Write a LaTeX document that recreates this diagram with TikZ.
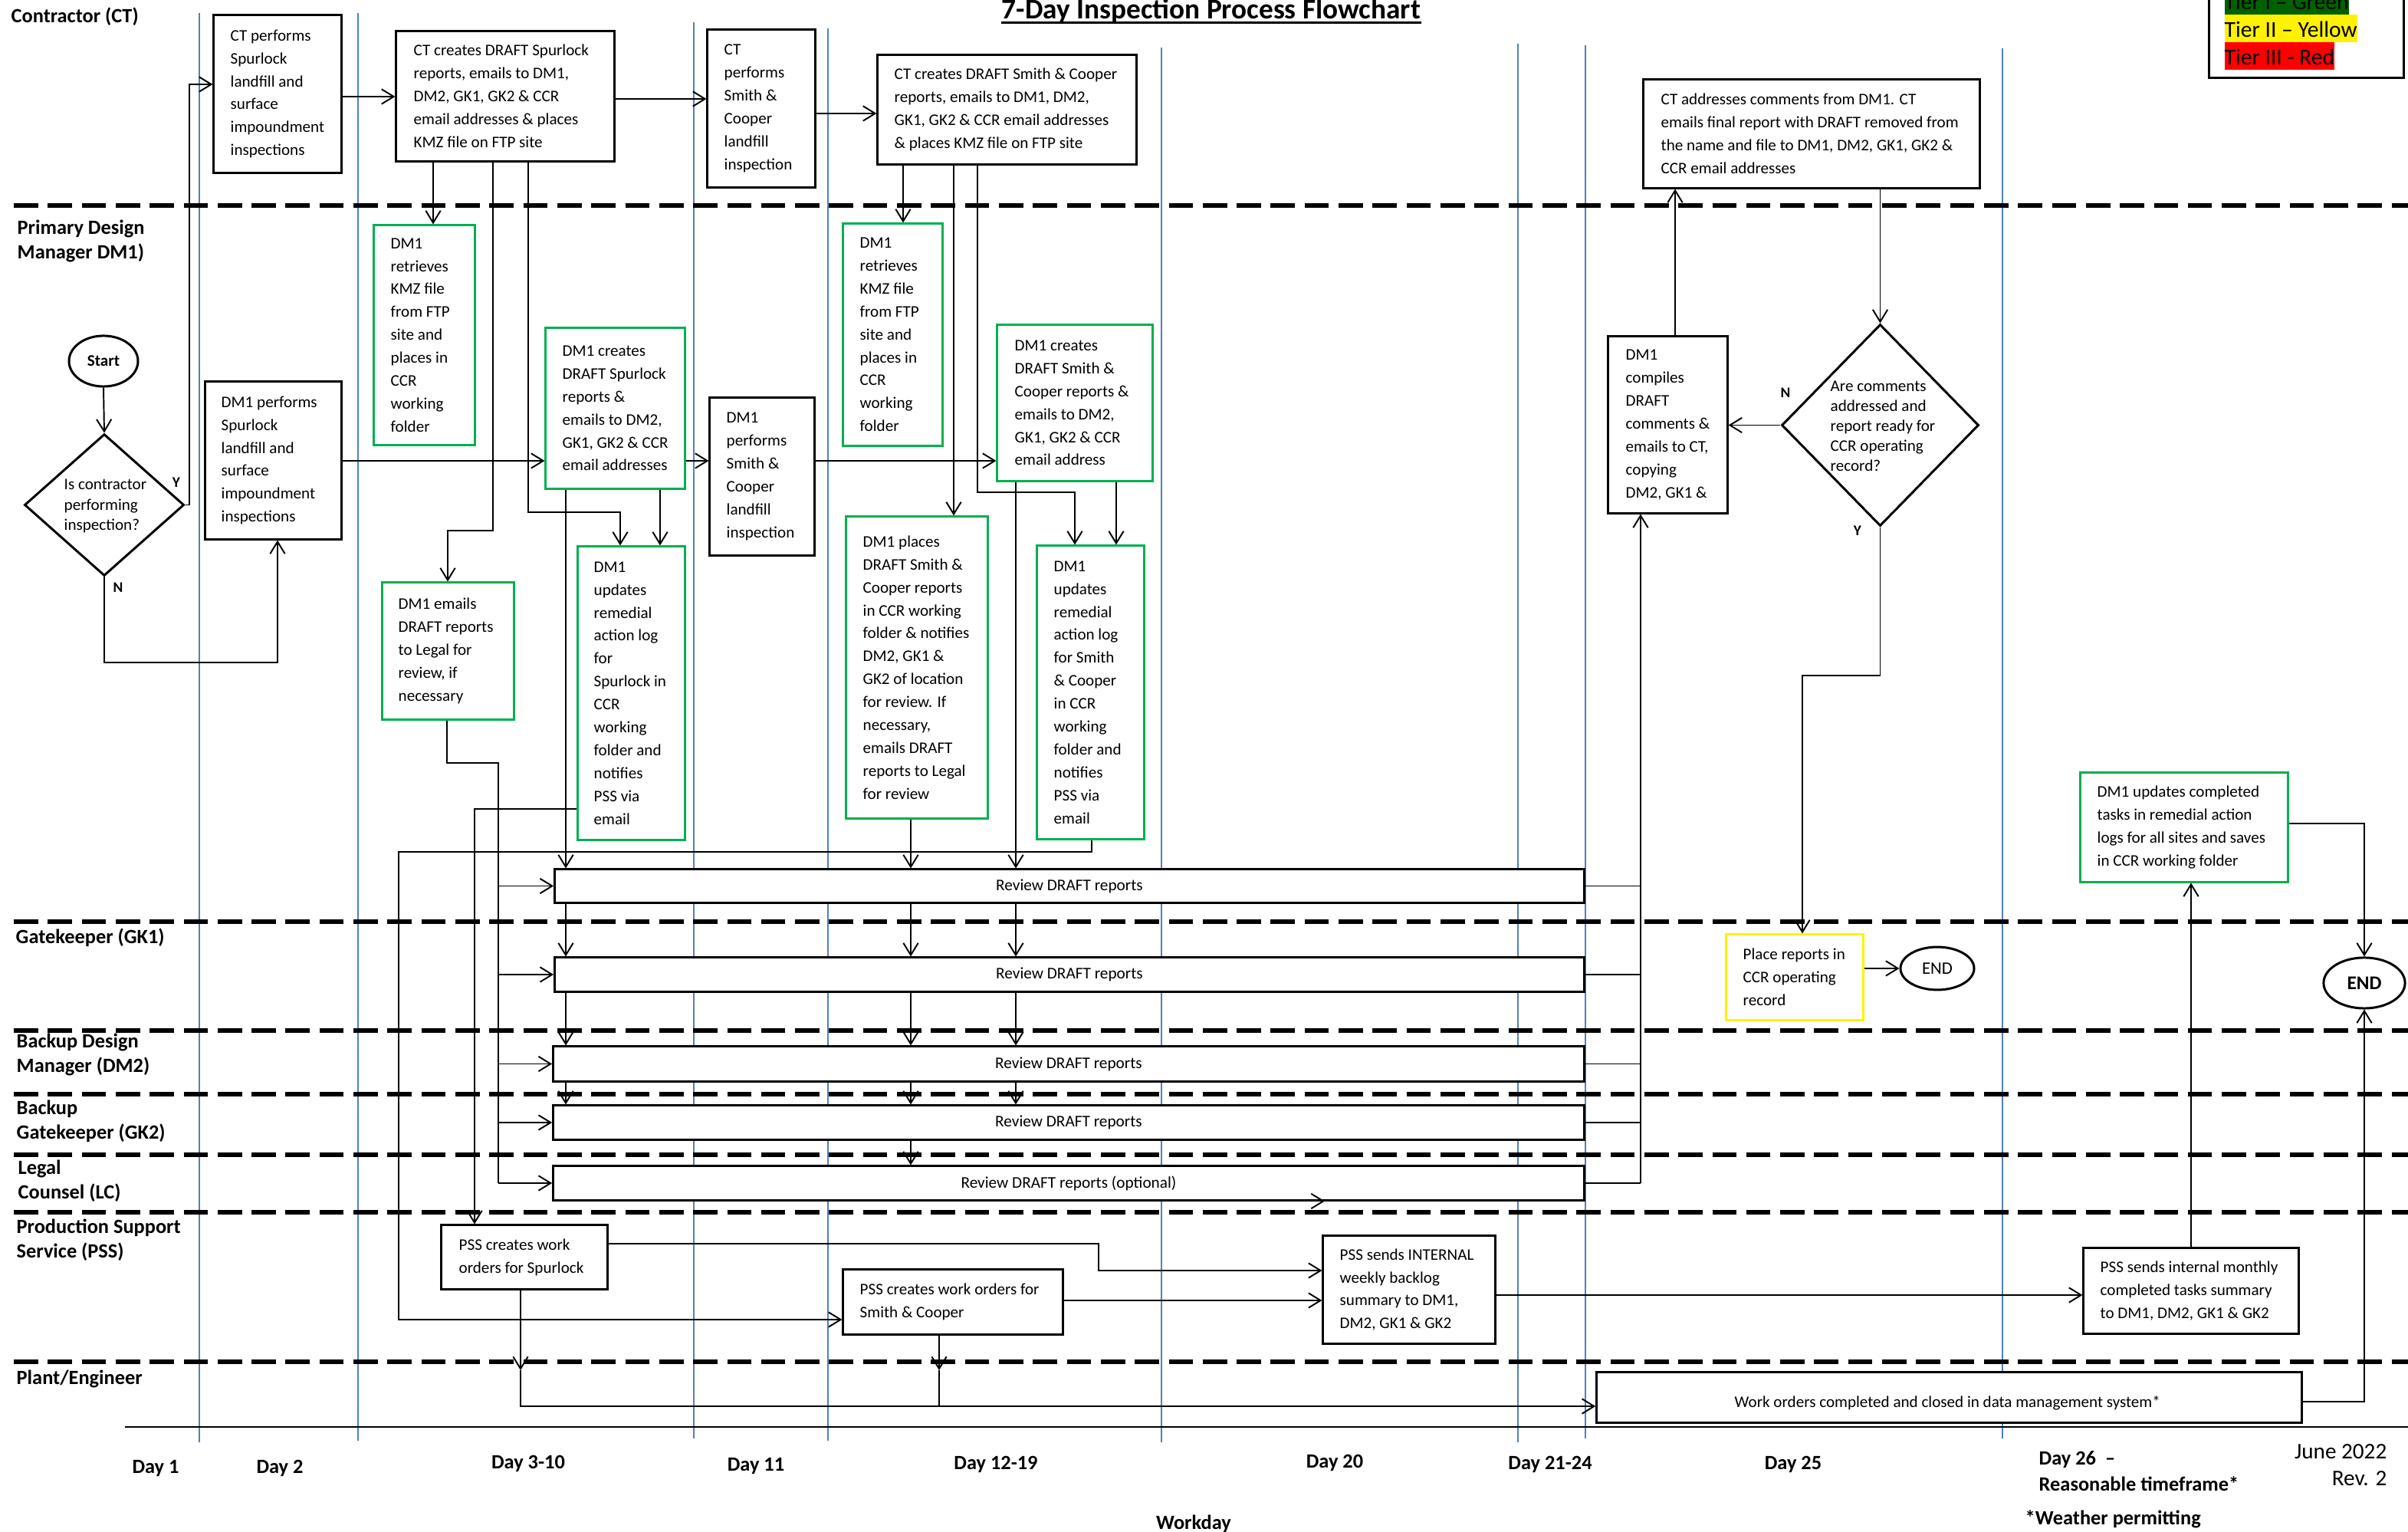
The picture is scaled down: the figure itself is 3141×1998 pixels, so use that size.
\documentclass[tikz,border=0pt]{standalone}
\usepackage{fontspec}
\setmainfont{Carlito}
\usetikzlibrary{arrows.meta,shapes.geometric}
\definecolor{boxgreen}{RGB}{0,176,80}
\definecolor{dayblue}{RGB}{79,129,189}
\definecolor{tiergreen}{RGB}{0,97,0}
\pgfdeclarelayer{bg}\pgfsetlayers{bg,main}
% name, style, x1, y1, x2, y2, text-left-x, text
\newcommand\mkbox[8]{%
  \pgfmathsetmacro\bw{((#5)-(#3))*0.28453}%
  \pgfmathsetmacro\bh{((#6)-(#4))*0.28453}%
  \pgfmathsetmacro\bcx{((#3)+(#5))/2}%
  \pgfmathsetmacro\bcy{((#4)+(#6))/2}%
  \node[#2, minimum width=\bw pt, minimum height=\bh pt] (#1) at (\bcx,\bcy) {};%
  \node[txt, anchor=west] at (#7,\bcy) {#8};%
}
% name, x1, y1, x2, y2, text (centred)
\newcommand\mkrev[6]{%
  \pgfmathsetmacro\bw{((#4)-(#2))*0.28453}%
  \pgfmathsetmacro\bh{((#5)-(#3))*0.28453}%
  \pgfmathsetmacro\bcx{((#2)+(#4))/2}%
  \pgfmathsetmacro\bcy{((#3)+(#5))/2}%
  \node[revbox, minimum width=\bw pt, minimum height=\bh pt] (#1) at (\bcx,\bcy) {#6};%
}
\begin{document}
\begin{tikzpicture}[x=0.01cm,y=-0.01cm,
  blk/.style={draw=black, line width=0.85pt, fill=white, inner sep=0pt},
  grn/.style={draw=boxgreen, line width=0.85pt, fill=white, inner sep=0pt},
  ylw/.style={draw=yellow, line width=0.85pt, fill=white, inner sep=0pt},
  revbox/.style={blk, font=\fontsize{6.05}{7}\selectfont},
  txt/.style={inner sep=0pt, align=left, font=\fontsize{6}{8.5}\selectfont},
  dtxt/.style={inner sep=0pt, align=left, font=\fontsize{6}{7.5}\selectfont},
  lane/.style={inner sep=0pt, align=left, anchor=north west, font=\bfseries\fontsize{7.5}{9.1}\selectfont},
  day/.style={anchor=base, inner sep=0pt, font=\bfseries\fontsize{7.5}{9}\selectfont},
  yn/.style={inner sep=0pt, font=\bfseries\fontsize{5.5}{6}\selectfont},
  lanesep/.style={line width=1.45pt, dash pattern=on 9pt off 3.6pt},
  dayline/.style={draw=dayblue, line width=0.45pt},
  conn/.style={line width=0.55pt},
  arr/.style={conn, -{Straight Barb[length=4.5pt,width=5.5pt]}},
  tier/.style={anchor=base west, inner xsep=0pt, inner ysep=0pt, text height=8.4pt, text depth=1.85pt, font=\fontsize{8.4}{10}\selectfont},
  term/.style={draw, line width=0.85pt, ellipse, fill=white, inner sep=0pt},
  dec/.style={draw, line width=0.85pt, diamond, fill=white, inner sep=0pt}
]
\useasboundingbox (0,0) rectangle (3141,1998);

\begin{pgfonlayer}{bg}
\foreach \x/\a/\b in {260/17/1881, 467/17/1879, 905/29/1876, 1080/37/1879, 1515/62/1881, 1980/57/1881, 2068/59/1876, 2612/63/1876}
  \draw[dayline] (\x,\a) -- (\x,\b);
\foreach \y in {268,1202,1344,1427,1506,1581,1776}
  \draw[lanesep] (18,\y) -- (3141,\y);
\draw[line width=0.5pt] (163,1861) -- (3141,1861);
\end{pgfonlayer}

% title
\node[anchor=base, inner sep=0pt, font=\bfseries\fontsize{10.6}{12}\selectfont] (title) at (1580,25) {7-Day Inspection Process Flowchart};
\draw[line width=0.9pt] ([yshift=-1.4pt]title.base west) -- ([yshift=-1.4pt]title.base east);

% legend
\draw[line width=0.85pt, fill=white] (2881,-20) rectangle (3135,102);
\node[tier, fill=tiergreen] (t1) at (2901,13) {Tier I – Green};
\node[tier, fill=yellow] (t2) at (2901,49) {Tier II – Yellow};
\node[tier, fill=red] (t3) at (2901,84.5) {Tier III - Red};

% lane labels
\node[lane] (l1) at (14,9) {Contractor (CT)};
\node[lane] (l2) at (22,286) {Primary Design\\Manager DM1)};
\node[lane] (l3) at (20,1210) {Gatekeeper (GK1)};
\node[lane] (l4) at (21,1347) {Backup Design\\Manager (DM2)};
\node[lane] (l5) at (21,1434) {Backup\\Gatekeeper (GK2)};
\node[lane] (l6) at (23,1512) {Legal\\Counsel (LC)};
\node[lane] (l7) at (21,1589) {Production Support\\Service (PSS)};
\node[lane] (l8) at (21,1786) {Plant/Engineer};

% day labels
\node[day] (d1) at (203,1921) {Day 1};
\node[day] (d2) at (365,1921) {Day 2};
\node[day] (d3) at (689,1915) {Day 3-10};
\node[day] (d4) at (986,1918) {Day 11};
\node[day] (d5) at (1299,1916) {Day 12-19};
\node[day] (d6) at (1741,1914) {Day 20};
\node[day] (d7) at (2022,1916) {Day 21-24};
\node[day] (d8) at (2339,1916) {Day 25};
\node[lane, font=\bfseries\fontsize{7.5}{9.7}\selectfont] (d9) at (2659,1892) {Day 26 \ –\\Reasonable timeframe*};
\node[day, anchor=base west] (wp) at (2641,1988) {*Weather permitting};
\node[day] (wd) at (1557,1994) {Workday};
\node[inner sep=0pt, anchor=north east, align=right, font=\fontsize{8.3}{10}\selectfont] (rev) at (3114,1883) {June 2022\\Rev. 2};

% CT lane
\mkbox{ctSp}{blk}{279}{20}{445}{225}{300}{CT performs\\Spurlock\\landfill and\\surface\\impoundment\\inspections}
\mkbox{ctDraftSp}{blk}{517}{41}{801}{210}{539}{CT creates DRAFT Spurlock\\reports, emails to DM1,\\DM2, GK1, GK2 \& CCR\\email addresses \& places\\KMZ file on FTP site}
\mkbox{ctSC}{blk}{923}{39}{1063}{244}{944}{CT\\performs\\Smith \&\\Cooper\\landfill\\inspection}
\mkbox{ctDraftSC}{blk}{1145}{72}{1482}{214}{1166}{CT creates DRAFT Smith \& Cooper\\reports, emails to DM1, DM2,\\GK1, GK2 \& CCR email addresses\\\& places KMZ file on FTP site}
\mkbox{ctFinal}{blk}{2144}{104}{2582}{245}{2166}{CT addresses comments from DM1. CT\\emails final report with DRAFT removed from\\the name and file to DM1, DM2, GK1, GK2 \&\\CCR email addresses}

% DM1 lane
\node[term, minimum width=25.6pt, minimum height=18.8pt, font=\bfseries\fontsize{6}{7}\selectfont] (start) at (135,471) {Start};
\node[dec, minimum width=59.2pt, minimum height=52.6pt] (dec1) at (136,658.5) {};
\node[dtxt, anchor=west] at (83,660) {Is contractor\\performing\\inspection?};
\node[yn] (ylab1) at (230,629) {Y};
\node[yn] (nlab1) at (154,766) {N};
\mkbox{dmSp}{blk}{268}{498}{445}{703}{288}{DM1 performs\\Spurlock\\landfill and\\surface\\impoundment\\inspections}
\mkbox{ret1}{grn}{488}{294}{619}{580}{509}{DM1\\retrieves\\KMZ file\\from FTP\\site and\\places in\\CCR\\working\\folder}
\mkbox{crSp}{grn}{712}{428}{893}{637}{733}{DM1 creates\\DRAFT Spurlock\\reports \&\\emails to DM2,\\GK1, GK2 \& CCR\\email addresses}
\mkbox{dmSC}{blk}{926}{519}{1062}{724}{947}{DM1\\performs\\Smith \&\\Cooper\\landfill\\inspection}
\mkbox{ret2}{grn}{1100}{292}{1229}{581}{1121}{DM1\\retrieves\\KMZ file\\from FTP\\site and\\places in\\CCR\\working\\folder}
\mkbox{crSC}{grn}{1301}{424}{1503}{627}{1323}{DM1 creates\\DRAFT Smith \&\\Cooper reports \&\\emails to DM2,\\GK1, GK2 \& CCR\\email address}
\mkbox{legal}{grn}{499}{760}{670}{938}{519}{DM1 emails\\DRAFT reports\\to Legal for\\review, if\\necessary}
\mkbox{updSp}{grn}{754}{713}{893}{1095}{774}{DM1\\updates\\remedial\\action log\\for\\Spurlock in\\CCR\\working\\folder and\\notifies\\PSS via\\email}
\mkbox{places}{grn}{1104}{674}{1288}{1067}{1125}{DM1 places\\DRAFT Smith \&\\Cooper reports\\in CCR working\\folder \& notifies\\DM2, GK1 \&\\GK2 of location\\for review. If\\necessary,\\emails DRAFT\\reports to Legal\\for review}
\mkbox{updSC}{grn}{1353}{712}{1492}{1094}{1374}{DM1\\updates\\remedial\\action log\\for Smith\\\& Cooper\\in CCR\\working\\folder and\\notifies\\PSS via\\email}
\mkbox{compile}{blk}{2098}{439}{2253}{669}{2120}{DM1\\compiles\\DRAFT\\comments \&\\emails to CT,\\copying\\DM2, GK1 \&}
\node[dec, minimum width=73.1pt, minimum height=74.8pt] (dec2) at (2452.5,554.5) {};
\node[dtxt, anchor=west, font=\fontsize{6}{7.4}\selectfont] at (2387,556) {Are comments\\addressed and\\report ready for\\CCR operating\\record?};
\node[yn] (nlab2) at (2329,512) {N};
\node[yn] (ylab2) at (2423,692) {Y};
\mkbox{updCompl}{grn}{2714}{1008}{2984}{1150}{2735}{DM1 updates completed\\tasks in remedial action\\logs for all sites and saves\\in CCR working folder}

% review rows
\mkrev{rev1}{724}{1134}{2066}{1177}{Review DRAFT reports}
\mkrev{rev2}{724}{1249}{2066}{1293}{Review DRAFT reports}
\mkrev{rev3}{722}{1365}{2066}{1410}{Review DRAFT reports}
\mkrev{rev4}{722}{1442}{2066}{1486}{Review DRAFT reports}
\mkrev{rev5}{722}{1521}{2066}{1565}{Review DRAFT reports (optional)}

% GK1 lane
\mkbox{place}{ylw}{2252}{1219}{2430}{1330}{2273}{Place reports in\\CCR operating\\record}
\node[term, minimum width=27.3pt, minimum height=15.9pt, font=\fontsize{6.5}{7}\selectfont] (end1) at (2527,1263) {END};
\node[term, minimum width=30.2pt, minimum height=18.8pt, font=\bfseries\fontsize{7.2}{8}\selectfont] (end2) at (3084,1282) {END};

% PSS lane
\mkbox{pssSp}{blk}{576}{1598}{792}{1681}{598}{PSS creates work\\orders for Spurlock}
\mkbox{pssSC}{blk}{1100}{1656}{1386}{1740}{1121}{PSS creates work orders for\\Smith \& Cooper}
\mkbox{pssWk}{blk}{1726}{1612}{1950}{1752}{1747}{PSS sends INTERNAL\\weekly backlog\\summary to DM1,\\DM2, GK1 \& GK2}
\mkbox{pssMo}{blk}{2718}{1628}{2998}{1739}{2739}{PSS sends internal monthly\\completed tasks summary\\to DM1, DM2, GK1 \& GK2}
\mkbox{wo}{blk}{2083}{1790}{3002}{1855}{2262}{}
\node[txt, anchor=west] (wotext) at (2262,1830) {Work orders completed and closed in data management system*};

% connectors
\draw[arr] (start.south) -- (dec1.north);
\draw[arr] (dec1.east) -- (247,0 |- dec1.east) -- (247,110) -- (ctSp.west |- 0,110);
\draw[arr] (dec1.south) |- (362,864) -- (dmSp.south -| 362,0);
\draw[arr] (ctSp.east |- 0,126) -- (ctDraftSp.west |- 0,126);
\draw[arr] (ctDraftSp.east |- 0,129) -- (ctSC.west |- 0,129);
\draw[arr] (ctSC.east |- 0,148) -- (ctDraftSC.west |- 0,148);
\draw[arr] (ctDraftSp.south -| 565,0) -- (ret1.north -| 565,0);
\draw[arr] (ctDraftSp.south -| 643,0) -- (643,692) -- (584,692) -- (legal.north -| 584,0);
\draw[arr] (ctDraftSp.south -| 689,0) -- (689,668) -- (809,668) -- (updSp.north -| 809,0);
\draw[arr] (dmSp.east |- 0,601) -- (crSp.west |- 0,601);
\draw[arr] (crSp.east |- 0,601) -- (dmSC.west |- 0,601);
\draw[arr] (dmSC.east |- 0,601) -- (crSC.west |- 0,601);
\draw[arr] (crSp.south -| 861,0) -- (updSp.north -| 861,0);
\draw[arr] (crSp.south -| 738,0) -- (rev1.north -| 738,0);
\draw[arr] (ctDraftSC.south -| 1178,0) -- (ret2.north -| 1178,0);
\draw[arr] (ctDraftSC.south -| 1244,0) -- (places.north -| 1244,0);
\draw[arr] (ctDraftSC.south -| 1275,0) -- (1275,642) -- (1402,642) -- (updSC.north -| 1402,0);
\draw[arr] (crSC.south -| 1456,0) -- (updSC.north -| 1456,0);
\draw[arr] (crSC.south -| 1325,0) -- (rev1.north -| 1325,0);
\draw[arr] (places.south -| 1188,0) -- (rev1.north -| 1188,0);
\foreach \a/\b in {rev1/rev2, rev2/rev3, rev3/rev4} {
  \draw[arr] (\a.south -| 738,0) -- (\b.north -| 738,0);
  \draw[arr] (\a.south -| 1188,0) -- (\b.north -| 1188,0);
  \draw[arr] (\a.south -| 1325,0) -- (\b.north -| 1325,0);
}
\draw[arr] (rev4.south -| 1188,0) -- (rev5.north -| 1188,0);
% legal bus
\coordinate (lgbus) at (650,995);
\draw[conn] (legal.south -| 583,0) |- (lgbus) -- (lgbus |- rev5.west);
\foreach \r in {rev1,rev2,rev3,rev4,rev5}
  \draw[arr] (lgbus |- \r.west) -- (\r.west);
% to PSS
\draw[arr] (updSp.west |- 0,1055) -- (619,1055) -- (pssSp.north -| 619,0);
\draw[arr] (updSC.south -| 1424,0) -- (1424,1111) -- (520,1111) -- (520,1721) -- (pssSC.west |- 0,1721);
% compile bus
\coordinate (cmpbus) at (2140,1543);
\foreach \r in {rev1,rev2,rev3,rev4,rev5}
  \draw[conn] (\r.east) -- (cmpbus |- \r.east);
\draw[arr] (cmpbus |- rev5.east) -- (compile.south -| cmpbus);
\draw[arr] (compile.north -| 2185,0) -- (ctFinal.south -| 2185,0);
\draw[arr] (ctFinal.south -| dec2.north) -- (dec2.north);
\draw[arr] (dec2.west) -- (compile.east |- dec2.west);
\draw[arr] (dec2.south) -- (2452.5,881) -- (2351,881) -- (place.north -| 2351,0);
\draw[arr] (place.east |- end1.west) -- (end1.west);
\draw[arr] (updCompl.east |- 0,1074) -| (end2.north);
\draw[arr] (pssMo.north -| 2858,0) -- (updCompl.south -| 2858,0);
\draw[arr] (wo.east |- 0,1828) -| (end2.south);
\draw[arr] (pssSp.east |- 0,1622) -- (1433,1622) -- (1433,1657) -- (pssWk.west |- 0,1657);
\draw[arr] (pssSC.east |- 0,1696) -- (pssWk.west |- 0,1696);
\draw[arr] (pssWk.east |- 0,1689) -- (pssMo.west |- 0,1689);
\coordinate (wobend) at (679,1834);
\draw[arr] (pssSp.south -| wobend) -- (wobend |- 0,1787);
\draw[arr] (wobend |- 0,1787) -- (wobend) -- (wo.west |- wobend);
\draw[arr] (pssSC.south -| 1225,0) -- (1225,1787);
\draw[conn] (1225,1787) -- (1225,1834);
\draw[arr] (rev5.south -| 791,0) -- (rev5.south -| 1728,0);
\end{tikzpicture}
\end{document}
